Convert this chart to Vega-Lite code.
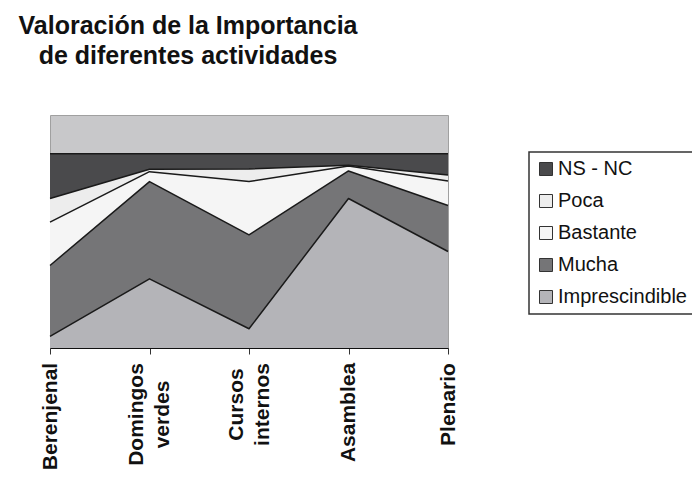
{
  "$schema": "https://vega.github.io/schema/vega-lite/v6.json",
  "width": 398,
  "height": 233,
  "autosize": "none",
  "padding": {"left": 50, "top": 115, "right": 244, "bottom": 139},
  "background": "white",
  "title": {
    "text": ["Valoración de la Importancia", "de diferentes actividades"],
    "anchor": "start",
    "align": "center",
    "frame": "group",
    "orient": "top",
    "baseline": "alphabetic",
    "offset": 0,
    "dx": 138,
    "dy": -26,
    "font": "Liberation Sans",
    "fontSize": 25,
    "fontWeight": "bold",
    "color": "#111111",
    "lineHeight": 30.5
  },
  "data": {
    "values": [
      {"actividad": "Berenjenal", "nivel": "Imprescindible", "k": 1, "valor": 6.0},
      {"actividad": "Berenjenal", "nivel": "Mucha", "k": 2, "valor": 36.5},
      {"actividad": "Berenjenal", "nivel": "Bastante", "k": 3, "valor": 22.3},
      {"actividad": "Berenjenal", "nivel": "Poca", "k": 4, "valor": 12.2},
      {"actividad": "Berenjenal", "nivel": "NS - NC", "k": 5, "valor": 23.0},
      {"actividad": "Domingos verdes", "nivel": "Imprescindible", "k": 1, "valor": 35.6},
      {"actividad": "Domingos verdes", "nivel": "Mucha", "k": 2, "valor": 50.1},
      {"actividad": "Domingos verdes", "nivel": "Bastante", "k": 3, "valor": 5.1},
      {"actividad": "Domingos verdes", "nivel": "Poca", "k": 4, "valor": 1.3},
      {"actividad": "Domingos verdes", "nivel": "NS - NC", "k": 5, "valor": 7.9},
      {"actividad": "Cursos internos", "nivel": "Imprescindible", "k": 1, "valor": 9.9},
      {"actividad": "Cursos internos", "nivel": "Mucha", "k": 2, "valor": 48.4},
      {"actividad": "Cursos internos", "nivel": "Bastante", "k": 3, "valor": 27.4},
      {"actividad": "Cursos internos", "nivel": "Poca", "k": 4, "valor": 6.5},
      {"actividad": "Cursos internos", "nivel": "NS - NC", "k": 5, "valor": 7.8},
      {"actividad": "Asamblea", "nivel": "Imprescindible", "k": 1, "valor": 77.0},
      {"actividad": "Asamblea", "nivel": "Mucha", "k": 2, "valor": 14.2},
      {"actividad": "Asamblea", "nivel": "Bastante", "k": 3, "valor": 2.5},
      {"actividad": "Asamblea", "nivel": "Poca", "k": 4, "valor": 0.4},
      {"actividad": "Asamblea", "nivel": "NS - NC", "k": 5, "valor": 5.9},
      {"actividad": "Plenario", "nivel": "Imprescindible", "k": 1, "valor": 49.7},
      {"actividad": "Plenario", "nivel": "Mucha", "k": 2, "valor": 23.7},
      {"actividad": "Plenario", "nivel": "Bastante", "k": 3, "valor": 12.6},
      {"actividad": "Plenario", "nivel": "Poca", "k": 4, "valor": 3.1},
      {"actividad": "Plenario", "nivel": "NS - NC", "k": 5, "valor": 10.9}
    ]
  },
  "transform": [
    {"stack": "valor", "groupby": ["actividad"], "sort": [{"field": "k", "order": "ascending"}], "as": ["v0", "v1"]}
  ],
  "encoding": {
    "x": {
      "field": "actividad",
      "type": "ordinal",
      "sort": null,
      "scale": {"type": "point", "padding": 0},
      "axis": {
        "title": null,
        "labelExpr": "split(datum.label, ' ')",
        "labelAngle": -90,
        "labelAlign": "center",
        "labelBaseline": "middle",
        "labelFont": "Liberation Sans",
        "labelFontSize": 21,
        "labelFontWeight": "bold",
        "labelColor": "#111111",
        "labelLineHeight": 26,
        "labelPadding": {
          "condition": [
            {"test": "datum.value == 'Berenjenal'", "value": 62},
            {"test": "datum.value == 'Domingos verdes'", "value": 60},
            {"test": "datum.value == 'Asamblea'", "value": 58}
          ],
          "value": 50
        },
        "labelOffset": {
          "condition": [
            {"test": "datum.value == 'Domingos verdes'", "value": -13},
            {"test": "datum.value == 'Cursos internos'", "value": -13}
          ],
          "value": 0
        },
        "labelOverlap": false,
        "labelLimit": 300,
        "domainColor": "#111111",
        "domainWidth": 1.2,
        "tickColor": "#333333",
        "tickSize": 6,
        "tickWidth": 1,
        "grid": false
      }
    }
  },
  "layer": [
    {
      "mark": {"type": "area", "opacity": 1},
      "encoding": {
        "y": {
          "field": "v1",
          "type": "quantitative",
          "scale": {"domain": [0, 120], "nice": false},
          "axis": null
        },
        "y2": {"field": "v0"},
        "color": {
          "field": "nivel",
          "type": "nominal",
          "scale": {
            "domain": ["NS - NC", "Poca", "Bastante", "Mucha", "Imprescindible"],
            "range": ["#4A4A4C", "#EDEDED", "#F5F5F5", "#757577", "#B4B4B8"]
          },
          "legend": {
            "orient": "none",
            "legendX": 479,
            "legendY": 37,
            "title": null,
            "symbolType": "square",
            "symbolSize": 169,
            "symbolStrokeColor": "#333333",
            "symbolStrokeWidth": 1,
            "symbolOpacity": 1,
            "labelFont": "Liberation Sans",
            "labelFontSize": 20,
            "labelColor": "#111111",
            "labelOffset": 2,
            "labelLimit": 300,
            "rowPadding": 12,
            "padding": 7,
            "strokeColor": "#333333",
            "fillColor": "white"
          }
        }
      }
    },
    {
      "mark": {"type": "line", "color": "#1a1a1a", "strokeWidth": 1.5, "strokeJoin": "round"},
      "encoding": {
        "y": {"field": "v1", "type": "quantitative"},
        "detail": {"field": "nivel", "type": "nominal"}
      }
    }
  ],
  "config": {
    "view": {"fill": "#C8C8CA", "stroke": "#A0A0A0", "strokeWidth": 1},
    "legend": {"strokeWidth": 1.5}
  }
}
